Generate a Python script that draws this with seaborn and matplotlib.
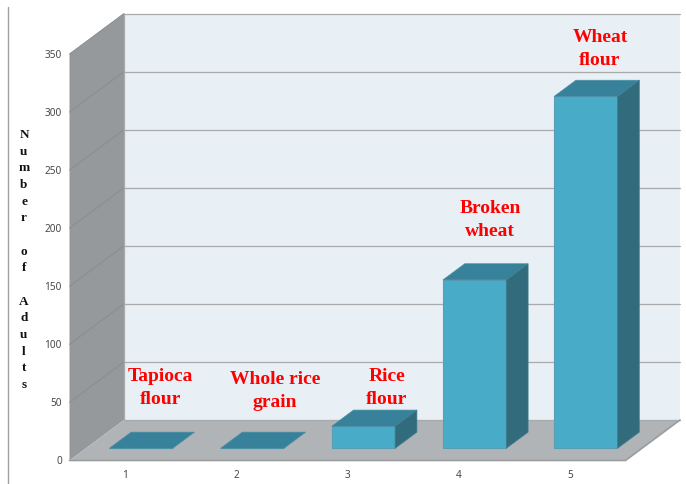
import matplotlib
matplotlib.use("Agg")
import matplotlib.pyplot as plt
import pandas as pd
import seaborn as sns
from matplotlib.patches import Polygon
from matplotlib.lines import Line2D

# ── Data ──────────────────────────────────────────────────────────────────
positions = ["1", "2", "3", "4", "5"]
adults = [0, 0, 19, 145, 303]
grain_names = ["Tapioca\nflour", "Whole rice\ngrain", "Rice\nflour", "Broken\nwheat", "Wheat\nflour"]
y_ticks = [0, 50, 100, 150, 200, 250, 300, 350]
y_title = "N\nu\nm\nb\ne\nr\n\no\nf\n\nA\nd\nu\nl\nt\ns"

# Colours
WALL_BACK, WALL_LEFT, FLOOR = "#e8eff5", "#96999c", "#b0b4b7"
GRID, EDGE = "#a8aaac", "#9a9c9e"
BAR_FRONT, BAR_TOP, BAR_SIDE = "#48acc8", "#38819a", "#326c7c"

W, H = 686, 484

sns.set_theme(style="white")
fig = plt.figure(figsize=(W / 100, H / 100), dpi=100, facecolor="white")

# axes = the front plane of the fake 3D box (pixels from the reference)
left, right, top, bottom = 69.5, 625.5, 54, 460.5
ax = fig.add_axes([left / W, 1 - bottom / H, (right - left) / W, (bottom - top) / H])
ax.patch.set_visible(False)

df = pd.DataFrame({"position": positions, "adults": adults})
sns.barplot(data=df, x="position", y="adults", order=positions, color=BAR_FRONT,
            saturation=1, width=0.57, ax=ax, zorder=5, errorbar=None)

ax.set_xlim(-0.5, 4.5)
ax.set_ylim(0, 350)
ax.set_xlabel("")
ax.set_ylabel("")
ax.set_yticks(y_ticks)
ax.tick_params(length=0, labelsize=7.2, labelcolor="#484848", pad=5.5)
ax.tick_params(axis="x", pad=7)
for lab in ax.get_xticklabels() + ax.get_yticklabels():
    lab.set_family("Noto Sans")
sns.despine(ax=ax, left=True, bottom=True)

# depth of the box in data units
DX = 54.5 / ((right - left) / 5)
DY = 40.5 / ((bottom - top) / 350)
x0, x1 = ax.get_xlim()
y1 = ax.get_ylim()[1]


def poly(pts, color, z, edge="none", lw=0):
    ax.add_patch(Polygon(pts, closed=True, facecolor=color, edgecolor=edge, lw=lw,
                         zorder=z, clip_on=False))


# walls and floor
poly([(x0 + DX, DY), (x1 + DX, DY), (x1 + DX, y1 + DY), (x0 + DX, y1 + DY)], WALL_BACK, 1)
poly([(x0, 0), (x0 + DX, DY), (x0 + DX, y1 + DY), (x0, y1)], WALL_LEFT, 1)
poly([(x0, 0), (x1, 0), (x1 + DX, DY), (x0 + DX, DY)], FLOOR, 1)

for t in y_ticks:
    ax.add_line(Line2D([x0 + DX, x1 + DX], [t + DY, t + DY], color=GRID, lw=0.9, zorder=2, clip_on=False))
    if 0 < t:
        ax.add_line(Line2D([x0, x0 + DX], [t, t + DY], color="#8a8d90", lw=0.7, zorder=2, clip_on=False))
ax.add_line(Line2D([x0, x1, x1 + DX], [0, 0, DY], color=EDGE, lw=1.2, zorder=2, clip_on=False))
ax.add_line(Line2D([x0 + DX, x0 + DX], [DY, y1 + DY], color=GRID, lw=0.9, zorder=2, clip_on=False))

# move the seaborn bars into the box and give them a top and a side
FRONT, BACK = 0.30, 0.70
for bar in ax.patches[:len(adults)]:
    bar.set_x(bar.get_x() + FRONT * DX - 0.004)
    bar.set_y(FRONT * DY)
    bar.set_edgecolor("#5b9db3")
    bar.set_linewidth(0.8)
    xa, xb = bar.get_x(), bar.get_x() + bar.get_width()
    yb, yt = bar.get_y(), bar.get_y() + bar.get_height()
    ddx, ddy = (BACK - FRONT) * DX, (BACK - FRONT) * DY
    poly([(xa, yt), (xb, yt), (xb + ddx, yt + ddy), (xa + ddx, yt + ddy)], BAR_TOP, 6, "#4a90a6", 0.5)
    if yt > yb:
        poly([(xb, yb), (xb + ddx, yb + ddy), (xb + ddx, yt + ddy), (xb, yt)], BAR_SIDE, 6, "#3f7f92", 0.5)

# red names above the bars
label_xy = [(160.5, 388), (275, 391), (387, 388), (490, 220), (600, 49)]
for name, (px, py) in zip(grain_names, label_xy):
    fig.text(px / W, 1 - py / H, name, color="#ff0000", fontsize=14, fontweight="bold",
             family="Liberation Serif", ha="center", va="center", linespacing=1.46, zorder=10)

# stacked y title
fig.text(24 / W, 1 - 260 / H, y_title, color="#111111", fontsize=9.5, fontweight="bold",
         family="Liberation Serif", ha="center", va="center", linespacing=1.52)

# thin frame line on the left of the picture
fig.add_artist(Line2D([8 / W, 8 / W], [1 - 7 / H, 0], color="#a0a0a0", lw=1))

fig.savefig("out.png", dpi=100, facecolor="white")
